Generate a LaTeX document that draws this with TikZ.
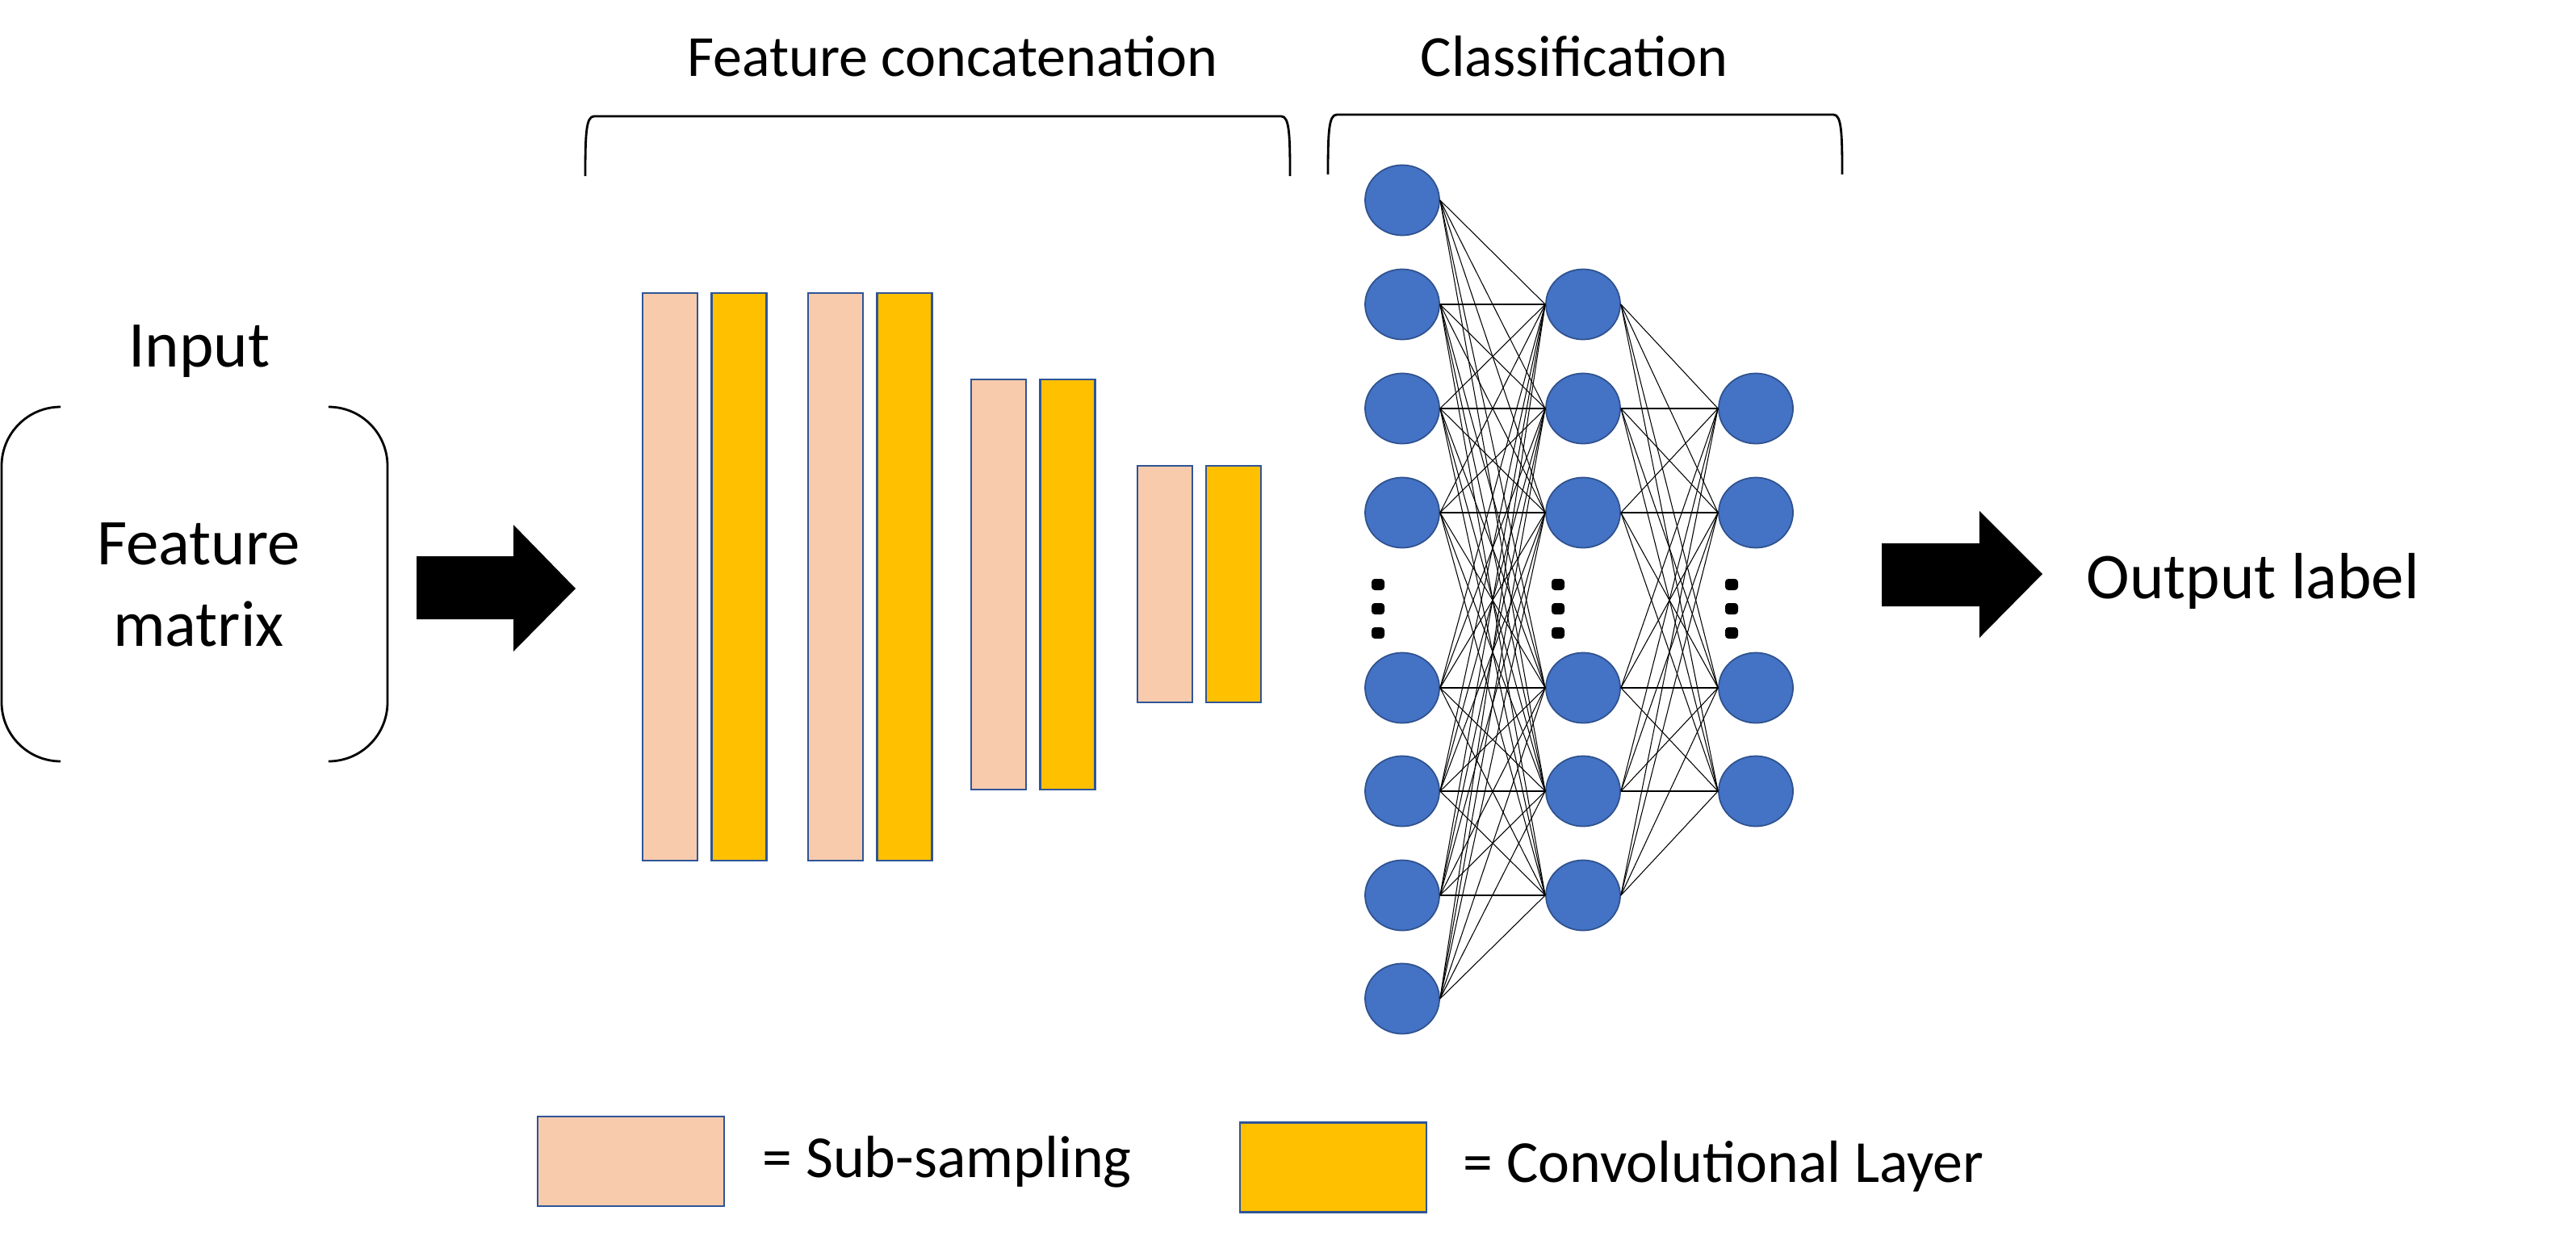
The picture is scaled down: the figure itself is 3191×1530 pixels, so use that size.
\documentclass[tikz,border=0pt]{standalone}
\usepackage{fontspec}
\setmainfont{Carlito}
\usetikzlibrary{shapes.geometric}

\definecolor{peach}{HTML}{F8CBAD}
\definecolor{gold}{HTML}{FFC000}
\definecolor{barline}{HTML}{2F5597}
\definecolor{neuron}{HTML}{4472C4}
\definecolor{neuronline}{HTML}{2F528F}

\tikzset{
    big/.style={font=\fontsize{23}{28}\selectfont, inner sep=0pt},
    head/.style={font=\fontsize{20.5}{25}\selectfont, inner sep=0pt, anchor=base},
    leg/.style={font=\fontsize{21}{25}\selectfont, inner sep=0pt, anchor=base west},
    sub/.style={draw=barline, fill=peach, line width=0.6pt, minimum width=0.68cm, inner sep=0pt},
    conv/.style={draw=barline, fill=gold, line width=0.6pt, minimum width=0.68cm, inner sep=0pt},
    unit/.style={ellipse, draw=neuronline, fill=neuron, line width=0.5pt,
        minimum width=0.92cm, minimum height=0.87cm, inner sep=0pt},
    wire/.style={line width=0.3pt},
    brace/.style={line width=0.8pt}
}

\begin{document}
\begin{tikzpicture}[x=0.01cm, y=-0.01cm]
    \useasboundingbox (0,0) rectangle (3191,1530);

    \node[big, anchor=base]       (in)  at (247,454)   {Input};
    \node[big, anchor=base]       (f1)  at (246,699)   {Feature};
    \node[big, anchor=base]       (f2)  at (246,800)   {matrix};
    \node[head]                   (fc)  at (1180,94)   {Feature concatenation};
    \node[head]                   (cl)  at (1950,94)   {Classification};
    \node[big, anchor=base west]  (out) at (2584,741)  {Output label};

    \draw[brace, rounded corners=0.73cm] (75,504) -- (2,504) -- (2,943) -- (75,943);
    \draw[brace, rounded corners=0.73cm] (407,504) -- (480,504) -- (480,943) -- (407,943);
    \draw[brace] (725,218) .. controls (725,165) and (726,144) .. (736,144) -- (1587,144)
        .. controls (1597,144) and (1598,165) .. (1598,218);
    \draw[brace] (1645,216) .. controls (1645,163) and (1646,142) .. (1656,142) -- (2271,142)
        .. controls (2281,142) and (2282,163) .. (2282,216);

    \fill (516,689) -- (636,689) -- (636,650) -- (713,729) -- (636,807) -- (636,767) -- (516,767) -- cycle;
    \fill (2331,673) -- (2452,673) -- (2452,633) -- (2530,711) -- (2452,790) -- (2452,751) -- (2331,751) -- cycle;

    \node[sub,  minimum height=7.03cm] (s1) at (830,714.5)  {};
    \node[conv, minimum height=7.03cm] (c1) at (915.5,714.5) {};
    \node[sub,  minimum height=7.03cm] (s2) at (1035,714.5) {};
    \node[conv, minimum height=7.03cm] (c2) at (1120.5,714.5) {};
    \node[sub,  minimum height=5.08cm] (s3) at (1237,724)   {};
    \node[conv, minimum height=5.08cm] (c3) at (1322.5,724) {};
    \node[sub,  minimum height=2.93cm] (s4) at (1443,723.5) {};
    \node[conv, minimum height=2.93cm] (c4) at (1528,723.5) {};

    \node[unit] (i1) at (1737,248)  {};
    \node[unit] (i2) at (1737,377)  {};
    \node[unit] (i3) at (1737,506)  {};
    \node[unit] (i4) at (1737,635)  {};
    \node[unit] (i5) at (1737,852)  {};
    \node[unit] (i6) at (1737,980)  {};
    \node[unit] (i7) at (1737,1109) {};
    \node[unit] (i8) at (1737,1237) {};
    \node[unit] (h1) at (1961,377)  {};
    \node[unit] (h2) at (1961,506)  {};
    \node[unit] (h3) at (1961,635)  {};
    \node[unit] (h4) at (1961,852)  {};
    \node[unit] (h5) at (1961,980)  {};
    \node[unit] (h6) at (1961,1109) {};
    \node[unit] (o1) at (2175,506)  {};
    \node[unit] (o2) at (2175,635)  {};
    \node[unit] (o3) at (2175,852)  {};
    \node[unit] (o4) at (2175,980)  {};

    \foreach \b in {1,...,5}
        \draw[wire] (i1.east) -- (h\b.west);
    \foreach \a in {2,...,8}
        \foreach \b in {1,...,6}
            \draw[wire] (i\a.east) -- (h\b.west);
    \foreach \a in {1,...,6}
        \foreach \b in {1,...,4}
            \draw[wire] (h\a.east) -- (o\b.west);

    \foreach \x in {1707,1930,2145}
        \foreach \y in {724,754,784}
            \fill[rounded corners=0.04cm] (\x-8,\y-7) rectangle (\x+8,\y+7);

    \node[sub,  minimum width=2.31cm, minimum height=1.11cm] (ls) at (781.5,1438.5) {};
    \node[conv, minimum width=2.31cm, minimum height=1.11cm] (lc) at (1651.5,1446)  {};
    \node[leg] (lst) at (944,1458)  {= Sub-sampling};
    \node[leg] (lct) at (1812,1464) {= Convolutional Layer};
\end{tikzpicture}
\end{document}
